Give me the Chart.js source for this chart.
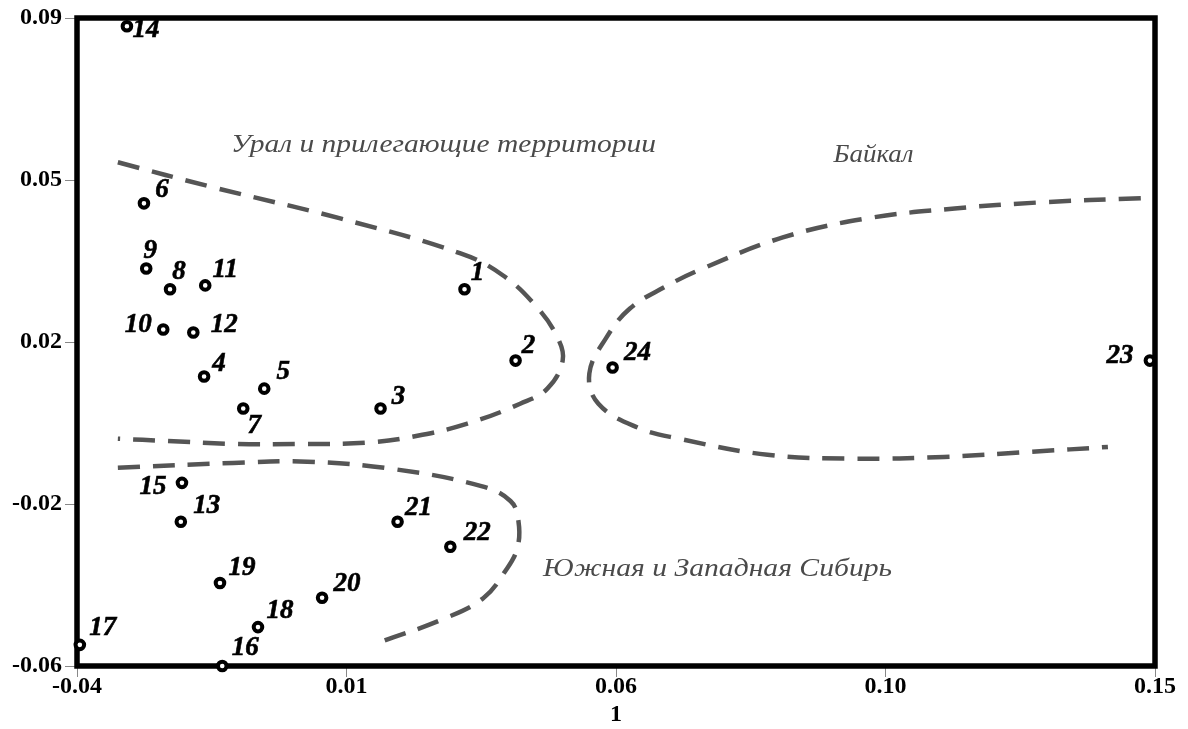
<!DOCTYPE html>
<html>
<head>
<meta charset="utf-8">
<script src="https://cdn.jsdelivr.net/npm/chart.js@4.4.0/dist/chart.umd.min.js"></script>
<style>
  html, body { margin: 0; padding: 0; background: #fff; }
</style>
</head>
<body>
<canvas id="plot" width="1188" height="729"></canvas>
<script>
// объекты 1..24: координаты по осям 1 и 2
const pointLabels = ['1','2','3','4','5','6','7','8','9','10','11','12',
                     '13','14','15','16','17','18','19','20','21','22','23','24'];
const axis1 = [0.0283, 0.0373, 0.0135, -0.0176, -0.0070, -0.0282, -0.0107, -0.0236,
               -0.0278, -0.0248, -0.0174, -0.0195, -0.0217, -0.0312, -0.0215, -0.0144,
               -0.0395, -0.0081, -0.0148, 0.0032, 0.0165, 0.0258, 0.1491, 0.0544];
const axis2 = [0.0272, 0.0107, -0.0004, 0.0070, 0.0042, 0.0471, -0.0004, 0.0272,
               0.0320, 0.0179, 0.0281, 0.0172, -0.0266, 0.0881, -0.0176, -0.0600,
               -0.0551, -0.0510, -0.0408, -0.0442, -0.0266, -0.0324, 0.0107, 0.0091];

// границы групп (пунктир)
const uralX = [-0.0328, -0.0160, 0.0064, 0.0276, 0.0351, 0.0411, 0.0447, 0.0456, 0.0429,
               0.0381, 0.0288, 0.0200, 0.0112, -0.0007, -0.0125, -0.0241, -0.0328];
const uralY = [0.0566, 0.0508, 0.0436, 0.0355, 0.0304, 0.0230, 0.0160, 0.0107, 0.0042,
               0.0007, -0.0039, -0.0067, -0.0083, -0.0086, -0.0086, -0.0079, -0.0074];
const sibX = [-0.0328, -0.0125, 0.0006, 0.0157, 0.0311, 0.0364, 0.0378, 0.0376, 0.0355,
              0.0316, 0.0246, 0.0140];
const sibY = [-0.0141, -0.0130, -0.0127, -0.0144, -0.0183, -0.0218, -0.0264, -0.0327,
              -0.0380, -0.0443, -0.0491, -0.0542];
const baikalX = [0.1475, 0.1295, 0.1147, 0.0992, 0.0844, 0.0703, 0.0634, 0.0574, 0.0533,
                 0.0503, 0.0519, 0.0588, 0.0662, 0.0817, 0.0972, 0.1128, 0.1283, 0.1417];
const baikalY = [0.0483, 0.0473, 0.0459, 0.0436, 0.0392, 0.0320, 0.0276, 0.0227, 0.0160,
                 0.0077, 0.0007, -0.0048, -0.0074, -0.0111, -0.0120, -0.0116, -0.0104, -0.0093];

// подписи областей
const regionNames = ['Урал и прилегающие территории', 'Байкал', 'Южная и Западная Сибирь'];
const regionX = [0.0246, 0.1004, 0.0729];
const regionY = [0.0605, 0.0582, -0.0375];

// подписи делений
const xTickLabels = ['-0.04', '0.01', '0.06', '0.10', '0.15'];
const yTickLabels = ['-0.06', '-0.02', '0.02', '0.05', '0.09'];
const xMin = -0.04, xMax = 0.15, yMin = -0.06, yMax = 0.09;

// смещение номера относительно точки, px
const labelShift = {
  '1': [13, -16], '2': [13, -15], '3': [18, -11], '4': [15, -13], '5': [19, -17],
  '6': [18, -13], '7': [11, 18], '8': [9, -17], '9': [4, -18], '10': [-25, -4],
  '11': [20, -15], '12': [31, -7], '13': [26, -16], '14': [19, 4], '15': [-29, 4],
  '16': [23, -18], '17': [23, -17], '18': [22, -16], '19': [22, -15], '20': [25, -14],
  '21': [21, -14], '22': [27, -14], '23': [-30, -5], '24': [25, -14]
};
// ширина подписей областей, px
const regionWidth = [425, 80, 349];

function zip(xs, ys) {
  return xs.map((x, i) => ({ x: x, y: ys[i] }));
}

function curve(xs, ys) {
  return {
    type: 'line',
    data: zip(xs, ys),
    showLine: true,
    borderColor: '#555',
    borderWidth: 4.5,
    borderDash: [22, 13],
    borderCapStyle: 'butt',
    tension: 0.4,
    pointRadius: 0,
    fill: false
  };
}

function evenTicks(min, max) {
  return function (scale) {
    scale.ticks = [0, 1, 2, 3, 4].map(i => ({ value: min + i * (max - min) / 4 }));
  };
}

const tickFont = { family: 'Liberation Serif', size: 24, weight: 'bold' };

const framePlugin = {
  id: 'frame',
  beforeDatasetsDraw(chart) {
    const a = chart.chartArea, ctx = chart.ctx;
    ctx.save();
    ctx.strokeStyle = '#000';
    ctx.lineWidth = 5.5;
    ctx.strokeRect(a.left, a.top, a.right - a.left, a.bottom - a.top);
    ctx.restore();
  },
  afterDatasetsDraw(chart) {
    const ctx = chart.ctx, xs = chart.scales.x, ys = chart.scales.y;
    ctx.save();
    // номера объектов
    ctx.fillStyle = '#000';
    ctx.strokeStyle = '#000';
    ctx.lineWidth = 0.6;
    ctx.font = 'italic bold 27px "Liberation Serif"';
    ctx.textAlign = 'center';
    ctx.textBaseline = 'middle';
    pointLabels.forEach((lab, i) => {
      const s = labelShift[lab] || [20, -15];
      const px = xs.getPixelForValue(axis1[i]) + s[0], py = ys.getPixelForValue(axis2[i]) + s[1];
      ctx.fillText(lab, px, py);
      ctx.strokeText(lab, px, py);
    });
    // названия областей
    ctx.fillStyle = '#4a4a4a';
    ctx.font = 'italic 26px "Liberation Serif"';
    regionNames.forEach((name, i) => {
      const px = xs.getPixelForValue(regionX[i]), py = ys.getPixelForValue(regionY[i]);
      const k = regionWidth[i] / ctx.measureText(name).width;
      ctx.save();
      ctx.translate(px, py);
      ctx.scale(k, 1);
      ctx.fillText(name, 0, 0);
      ctx.restore();
    });
    ctx.restore();
  }
};

new Chart(document.getElementById('plot'), {
  type: 'scatter',
  data: {
    datasets: [
      curve(uralX, uralY),
      curve(sibX, sibY),
      curve(baikalX, baikalY),
      {
        data: zip(axis1, axis2),
        pointRadius: 4.3,
        pointBorderWidth: 4,
        pointBorderColor: '#000',
        pointBackgroundColor: '#fff',
        clip: false
      }
    ]
  },
  options: {
    responsive: false,
    animation: false,
    layout: { padding: { top: 18, right: 33, left: 0, bottom: 0 } },
    plugins: { legend: { display: false }, tooltip: { enabled: false } },
    scales: {
      x: {
        type: 'linear',
        min: xMin,
        max: xMax,
        afterBuildTicks: evenTicks(xMin, xMax),
        afterFit(scale) { scale.height = 63; },
        border: { display: false },
        grid: { drawOnChartArea: false, drawTicks: true, tickLength: 11, color: '#888', lineWidth: 1 },
        ticks: {
          padding: -5,
          color: '#000',
          font: tickFont,
          maxRotation: 0,
          callback: (v, i) => xTickLabels[i]
        },
        title: {
          display: true,
          text: '1',
          color: '#000',
          font: { family: 'Liberation Serif', size: 24, weight: 'bold' },
          padding: { top: 0, bottom: 0 }
        }
      },
      y: {
        type: 'linear',
        min: yMin,
        max: yMax,
        afterBuildTicks: evenTicks(yMin, yMax),
        afterFit(scale) { scale.width = 77; },
        border: { display: false },
        grid: { drawOnChartArea: false, drawTicks: true, tickLength: 12, color: '#888', lineWidth: 1 },
        ticks: {
          padding: 3,
          color: '#000',
          font: tickFont,
          callback: (v, i) => yTickLabels[i]
        }
      }
    }
  },
  plugins: [framePlugin]
});
</script>
</body>
</html>
